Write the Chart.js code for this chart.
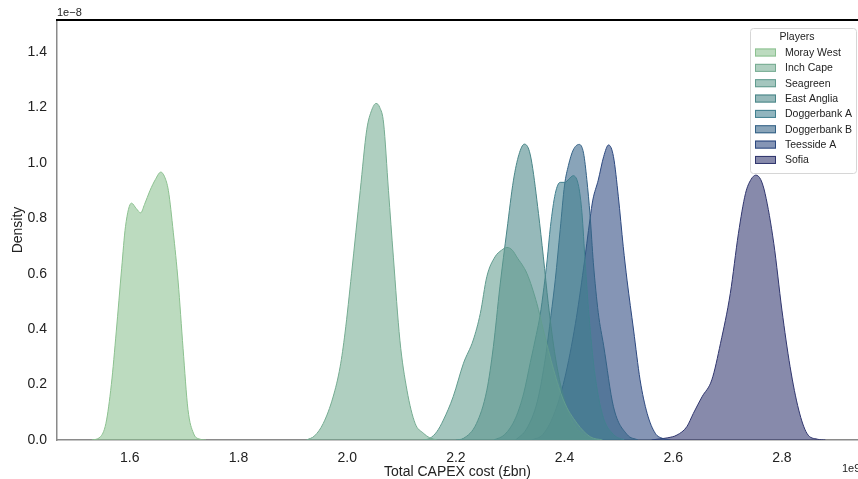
<!DOCTYPE html>
<html>
<head>
<meta charset="utf-8">
<script src="https://cdn.jsdelivr.net/npm/chart.js@4"></script>
<style>
  html, body { margin: 0; padding: 0; background: #fff; }
  #wrap { width: 858px; height: 479px; }
</style>
</head>
<body>
<div id="wrap"><canvas id="kde" width="858" height="479"></canvas></div>
<script>
// KDE curves, x in £bn (1e9), y in density (1e-8)
const players = ["Moray West", "Inch Cape", "Seagreen", "East Anglia", "Doggerbank A", "Doggerbank B", "Teesside A", "Sofia"];

const morayX = [1.530, 1.545, 1.556, 1.566, 1.575, 1.585, 1.592, 1.603, 1.612, 1.620, 1.627, 1.637, 1.647, 1.657, 1.664, 1.671, 1.680, 1.689, 1.698, 1.707, 1.717, 1.729, 1.740];
const morayY = [0, 0.01, 0.06, 0.20, 0.39, 0.62, 0.77, 0.855, 0.835, 0.82, 0.85, 0.90, 0.94, 0.967, 0.95, 0.90, 0.75, 0.57, 0.33, 0.11, 0.025, 0.003, 0];

const inchX = [1.925, 1.940, 1.956, 1.974, 1.987, 1.996, 2.008, 2.016, 2.024, 2.036, 2.045, 2.053, 2.060, 2.067, 2.076, 2.085, 2.097, 2.110, 2.125, 2.140, 2.152, 2.165];
const inchY = [0, 0.015, 0.06, 0.155, 0.264, 0.386, 0.60, 0.75, 0.90, 1.12, 1.19, 1.215, 1.20, 1.144, 0.90, 0.66, 0.36, 0.18, 0.06, 0.025, 0.008, 0];

const seagreenX = [2.140, 2.152, 2.165, 2.177, 2.195, 2.214, 2.232, 2.245, 2.257, 2.272, 2.284, 2.294, 2.304, 2.312, 2.331, 2.349, 2.361, 2.380, 2.398, 2.423, 2.447, 2.470];
const seagreenY = [0, 0.006, 0.03, 0.072, 0.156, 0.277, 0.361, 0.457, 0.59, 0.661, 0.685, 0.695, 0.685, 0.661, 0.60, 0.493, 0.397, 0.253, 0.144, 0.06, 0.012, 0];

const angliaX = [2.200, 2.214, 2.238, 2.257, 2.269, 2.281, 2.294, 2.306, 2.316, 2.326, 2.334, 2.340, 2.352, 2.361, 2.370, 2.383, 2.398, 2.416, 2.441, 2.465];
const angliaY = [0, 0.006, 0.06, 0.18, 0.337, 0.553, 0.758, 0.938, 1.03, 1.068, 1.05, 0.998, 0.818, 0.661, 0.493, 0.30, 0.156, 0.06, 0.012, 0];

const doggerAX = [2.270, 2.290, 2.310, 2.325, 2.337, 2.348, 2.355, 2.362, 2.368, 2.374, 2.383, 2.392, 2.401, 2.408, 2.416, 2.426, 2.432, 2.438, 2.445, 2.455, 2.470, 2.490, 2.510];
const doggerAY = [0, 0.02, 0.08, 0.17, 0.28, 0.38, 0.45, 0.55, 0.65, 0.77, 0.89, 0.93, 0.93, 0.942, 0.954, 0.915, 0.82, 0.64, 0.45, 0.25, 0.09, 0.02, 0];

const doggerBX = [2.310, 2.330, 2.350, 2.365, 2.375, 2.383, 2.392, 2.400, 2.407, 2.416, 2.427, 2.435, 2.441, 2.447, 2.453, 2.462, 2.472, 2.490, 2.515, 2.535];
const doggerBY = [0, 0.04, 0.14, 0.30, 0.45, 0.58, 0.76, 0.92, 0.99, 1.047, 1.067, 1.035, 0.94, 0.81, 0.64, 0.46, 0.34, 0.12, 0.02, 0];

const teessideX = [2.340, 2.360, 2.380, 2.400, 2.420, 2.435, 2.447, 2.452, 2.462, 2.472, 2.481, 2.490, 2.499, 2.508, 2.515, 2.527, 2.539, 2.552, 2.567, 2.580, 2.595];
const teessideY = [0, 0.02, 0.09, 0.22, 0.42, 0.62, 0.80, 0.866, 0.938, 1.023, 1.065, 1.023, 0.878, 0.698, 0.577, 0.397, 0.217, 0.096, 0.024, 0.006, 0];

const sofiaX = [2.560, 2.575, 2.590, 2.607, 2.625, 2.637, 2.653, 2.671, 2.687, 2.705, 2.720, 2.733, 2.743, 2.752, 2.761, 2.769, 2.785, 2.800, 2.815, 2.831, 2.846, 2.865, 2.880];
const sofiaY = [0, 0.004, 0.008, 0.018, 0.048, 0.096, 0.156, 0.217, 0.349, 0.529, 0.746, 0.89, 0.94, 0.956, 0.94, 0.89, 0.71, 0.469, 0.265, 0.108, 0.024, 0.003, 0];

const xTicks = [1.6, 1.8, 2.0, 2.2, 2.4, 2.6, 2.8];
const yTicks = [0.0, 0.2, 0.4, 0.6, 0.8, 1.0, 1.2, 1.4];

const curvesX = [morayX, inchX, seagreenX, angliaX, doggerAX, doggerBX, teessideX, sofiaX];
const curvesY = [morayY, inchY, seagreenY, angliaY, doggerAY, doggerBY, teessideY, sofiaY];

// crest-like palette
const edgeColors = [
  [140, 193, 144], [118, 172, 146], [98, 156, 143], [74, 134, 136],
  [66, 128, 143], [52, 98, 134], [44, 72, 127], [48, 54, 110]
];
const alpha = 0.58;

function rgba(c, a) {
  return `rgba(${c[0]}, ${c[1]}, ${c[2]}, ${a})`;
}

// first player ends up on top (Chart.js draws dataset 0 last)
const datasets = players.map((name, i) => ({
  label: name,
  data: curvesX[i].map((x, j) => ({ x: x, y: curvesY[i][j] })),
  borderColor: rgba(edgeColors[i], 1),
  backgroundColor: rgba(edgeColors[i], alpha),
  borderWidth: 1,
  fill: "origin",
  pointRadius: 0,
  cubicInterpolationMode: "monotone"
}));

const fontFamily = "'Liberation Sans', Arial, sans-serif";

const decorPlugin = {
  id: "decor",
  afterDraw(chart) {
    const ctx = chart.ctx;
    const area = chart.chartArea;
    ctx.save();
    // top spine
    ctx.strokeStyle = "#000";
    ctx.lineWidth = 2;
    ctx.beginPath();
    ctx.moveTo(area.left - 1, area.top);
    ctx.lineTo(area.right, area.top);
    ctx.stroke();

    // offset labels
    ctx.fillStyle = "#222";
    ctx.font = "11px " + fontFamily;
    ctx.textAlign = "left";
    ctx.textBaseline = "alphabetic";
    ctx.fillText("1e\u22128", area.left, 16);
    ctx.fillText("1e9", 842, 472);

    // legend
    const lx = 750, ly = 28, lw = 106, lh = 145;
    ctx.fillStyle = "rgba(255,255,255,0.85)";
    ctx.strokeStyle = "#d6d6d6";
    ctx.lineWidth = 1;
    ctx.beginPath();
    ctx.roundRect(lx + 0.5, ly + 0.5, lw, lh, 3);
    ctx.fill();
    ctx.stroke();

    ctx.fillStyle = "#222";
    ctx.font = "10.5px " + fontFamily;
    ctx.textAlign = "center";
    ctx.textBaseline = "middle";
    ctx.fillText("Players", 797, 37.5);

    ctx.textAlign = "left";
    players.forEach((name, i) => {
      const cy = 52.5 + i * 15.35;
      ctx.fillStyle = rgba(edgeColors[i], alpha);
      ctx.strokeStyle = rgba(edgeColors[i], 1);
      ctx.fillRect(755, cy - 4, 21, 8);
      ctx.strokeRect(755.5, cy - 3.5, 20, 7);
      ctx.fillStyle = "#222";
      ctx.fillText(name, 785, cy + 0.5);
    });
    ctx.restore();
  }
};

new Chart(document.getElementById("kde"), {
  type: "line",
  data: { datasets: datasets },
  plugins: [decorPlugin],
  options: {
    responsive: false,
    animation: false,
    layout: { padding: { top: 20, right: 0, left: 0, bottom: 0 } },
    plugins: {
      legend: { display: false },
      tooltip: { enabled: false }
    },
    scales: {
      x: {
        type: "linear",
        min: 1.466,
        max: 2.94,
        grid: { display: false, drawTicks: false },
        border: { display: true, color: "#8a8a8a", width: 1.5 },
        afterBuildTicks: scale => { scale.ticks = xTicks.map(v => ({ value: v })); },
        afterFit: scale => { scale.height = 39; },
        ticks: {
          color: "#222",
          padding: 10,
          maxRotation: 0,
          font: { family: fontFamily, size: 14 },
          callback: value => Number(value).toFixed(1)
        },
        title: {
          display: true,
          text: "Total CAPEX cost (£bn)",
          color: "#222",
          font: { family: fontFamily, size: 14, lineHeight: 1.0 },
          padding: { top: 0, bottom: 0 }
        }
      },
      y: {
        type: "linear",
        min: 0,
        max: 1.516,
        grid: { display: false, drawTicks: false },
        border: { display: true, color: "#8a8a8a", width: 1.5 },
        afterBuildTicks: scale => { scale.ticks = yTicks.map(v => ({ value: v })); },
        afterFit: scale => { scale.width = 57; },
        ticks: {
          color: "#222",
          padding: 10,
          font: { family: fontFamily, size: 14 },
          callback: value => Number(value).toFixed(1)
        },
        title: {
          display: true,
          text: "Density",
          color: "#222",
          font: { family: fontFamily, size: 14, lineHeight: 1.0 },
          padding: { top: 11, bottom: 0 }
        }
      }
    }
  }
});
</script>
</body>
</html>
